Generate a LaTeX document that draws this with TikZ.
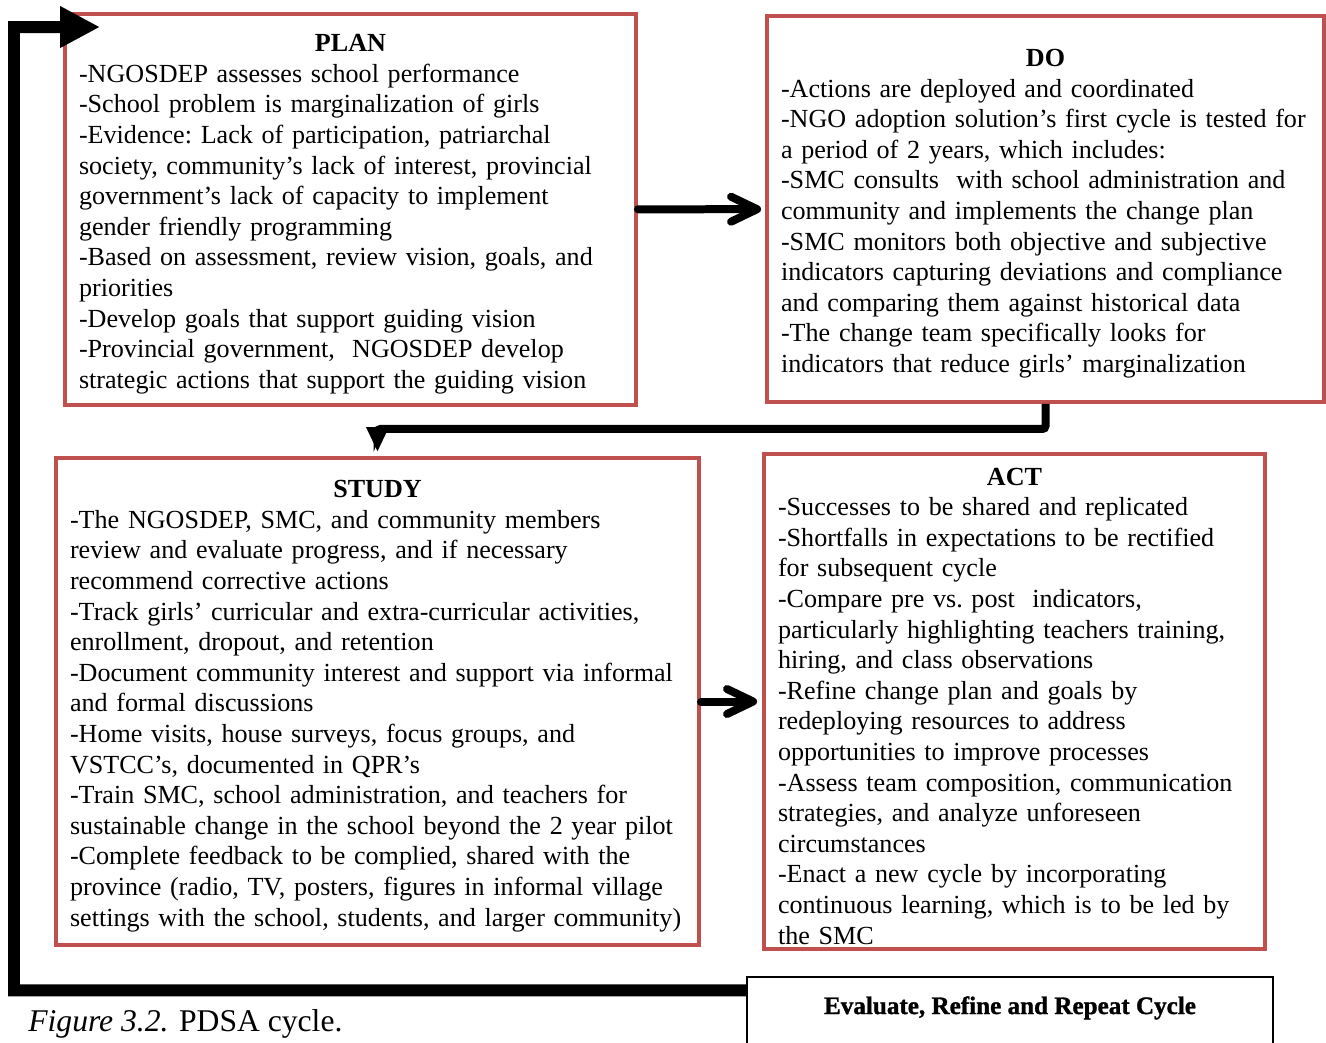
\documentclass[tikz,border=0pt]{standalone}
\usepackage{fontspec}
\setmainfont{Liberation Serif}
\newfontfamily\heavyfont[BoldFeatures={FakeBold=1.2}]{Liberation Serif}
\usetikzlibrary{arrows.meta}
\definecolor{boxred}{HTML}{C0504D}
\newcommand{\phasetitle}[1]{\makebox[\linewidth]{\rule{0pt}{0.53cm}\textbf{#1}}}
\tikzstyle{phase} = [rectangle, draw=boxred, line width=0.08cm, inner xsep=0.28cm, inner ysep=0pt, align=left, font=\fontsize{14.85pt}{17.42pt}\selectfont\frenchspacing]
\tikzstyle{evalbox} = [rectangle, draw=black, line width=0.03cm, minimum width=10.52cm, inner ysep=0pt, text height=0.74cm, text depth=2cm, font=\fontsize{14.3pt}{17pt}\selectfont\heavyfont\bfseries]
\tikzstyle{arrow} = [line width=0.16cm, line cap=round, -{Straight Barb[length=0.52cm, width=0.5cm, round]}]
\tikzstyle{turnarrow} = [line width=0.16cm, rounded corners=0.06cm, -{Triangle[length=0.5cm, width=0.42cm]}]
\tikzstyle{returnarrow} = [line width=0.24cm, -{Triangle[length=0.8cm, width=0.78cm]}]
\begin{document}
\begin{tikzpicture}[x=0.02cm, y=-0.02cm]
\useasboundingbox (0,0) rectangle (1326,1042);

\node (n1) [phase, text width=10.86cm, minimum height=7.82cm] at (350.5,209.5) {\phasetitle{PLAN}\\
-NGOSDEP assesses school performance\\
-School problem is marginalization of girls\\
-Evidence: Lack of participation, patriarchal\\
society, community’s lack of interest, provincial\\
government’s lack of capacity to implement\\
gender friendly programming\\
-Based on assessment, review vision, goals, and\\
priorities\\
-Develop goals that support guiding vision\\
-Provincial government,~ NGOSDEP develop\\
strategic actions that support the guiding vision};
\node (n2) [phase, text width=10.58cm, minimum height=7.72cm] at (1045.5,209) {\phasetitle{DO}\\
-Actions are deployed and coordinated\\
-NGO adoption solution's first cycle is tested for\\
a period of 2 years, which includes:\\
-SMC consults~ with school administration and\\
community and implements the change plan\\
-SMC monitors both objective and subjective\\
indicators capturing deviations and compliance\\
and comparing them against historical data\\
-The change team specifically looks for\\
indicators that reduce girls’ marginalization};
\node (n3) [phase, text width=12.3cm, minimum height=9.74cm] at (377.5,701.5) {\phasetitle{STUDY}\\
-The NGOSDEP, SMC, and community members\\
review and evaluate progress, and if necessary\\
recommend corrective actions\\
-Track girls’ curricular and extra-curricular activities,\\
enrollment, dropout, and retention\\
-Document community interest and support via informal\\
and formal discussions\\
-Home visits, house surveys, focus groups, and\\
VSTCC’s, documented in QPR’s\\
-Train SMC, school administration, and teachers for\\
sustainable change in the school beyond the 2 year pilot\\
-Complete feedback to be complied, shared with the\\
province (radio, TV, posters, figures in informal village\\
settings with the school, students, and larger community)};
\node (n4) [phase, text width=9.46cm, minimum height=9.9cm] at (1014.5,701.5) {\phasetitle{ACT}\\
-Successes to be shared and replicated\\
-Shortfalls in expectations to be rectified\\
for subsequent cycle\\
-Compare pre vs. post~ indicators,\\
particularly highlighting teachers training,\\
hiring, and class observations\\
-Refine change plan and goals by\\
redeploying resources to address\\
opportunities to improve processes\\
-Assess team composition, communication\\
strategies, and analyze unforeseen\\
circumstances\\
-Enact a new cycle by incorporating\\
continuous learning, which is to be led by\\
the SMC};
\node (n5) [evalbox, anchor=base] at (1010,1014) {Evaluate, Refine and Repeat Cycle};
\node (n6) [anchor=base west, inner sep=0pt, font=\fontsize{18pt}{21pt}\selectfont] at (28,1031) {\textit{Figure 3.2.} PDSA cycle.};
\coordinate (c1) at (14,27);

\draw [arrow, shorten >=0.08cm] (n1) -- (n2);
\draw [turnarrow] (n2.south) -- ++(0,25) -| ([yshift=0.08cm]n3.north);
\draw [arrow, shorten >=0.1cm] (n3) -- (n4);
\draw [returnarrow] ([yshift=-0.28cm]n5.north west) -| (c1) -- ([xshift=0.74cm,yshift=-0.3cm]n1.north west);

\end{tikzpicture}
\end{document}
